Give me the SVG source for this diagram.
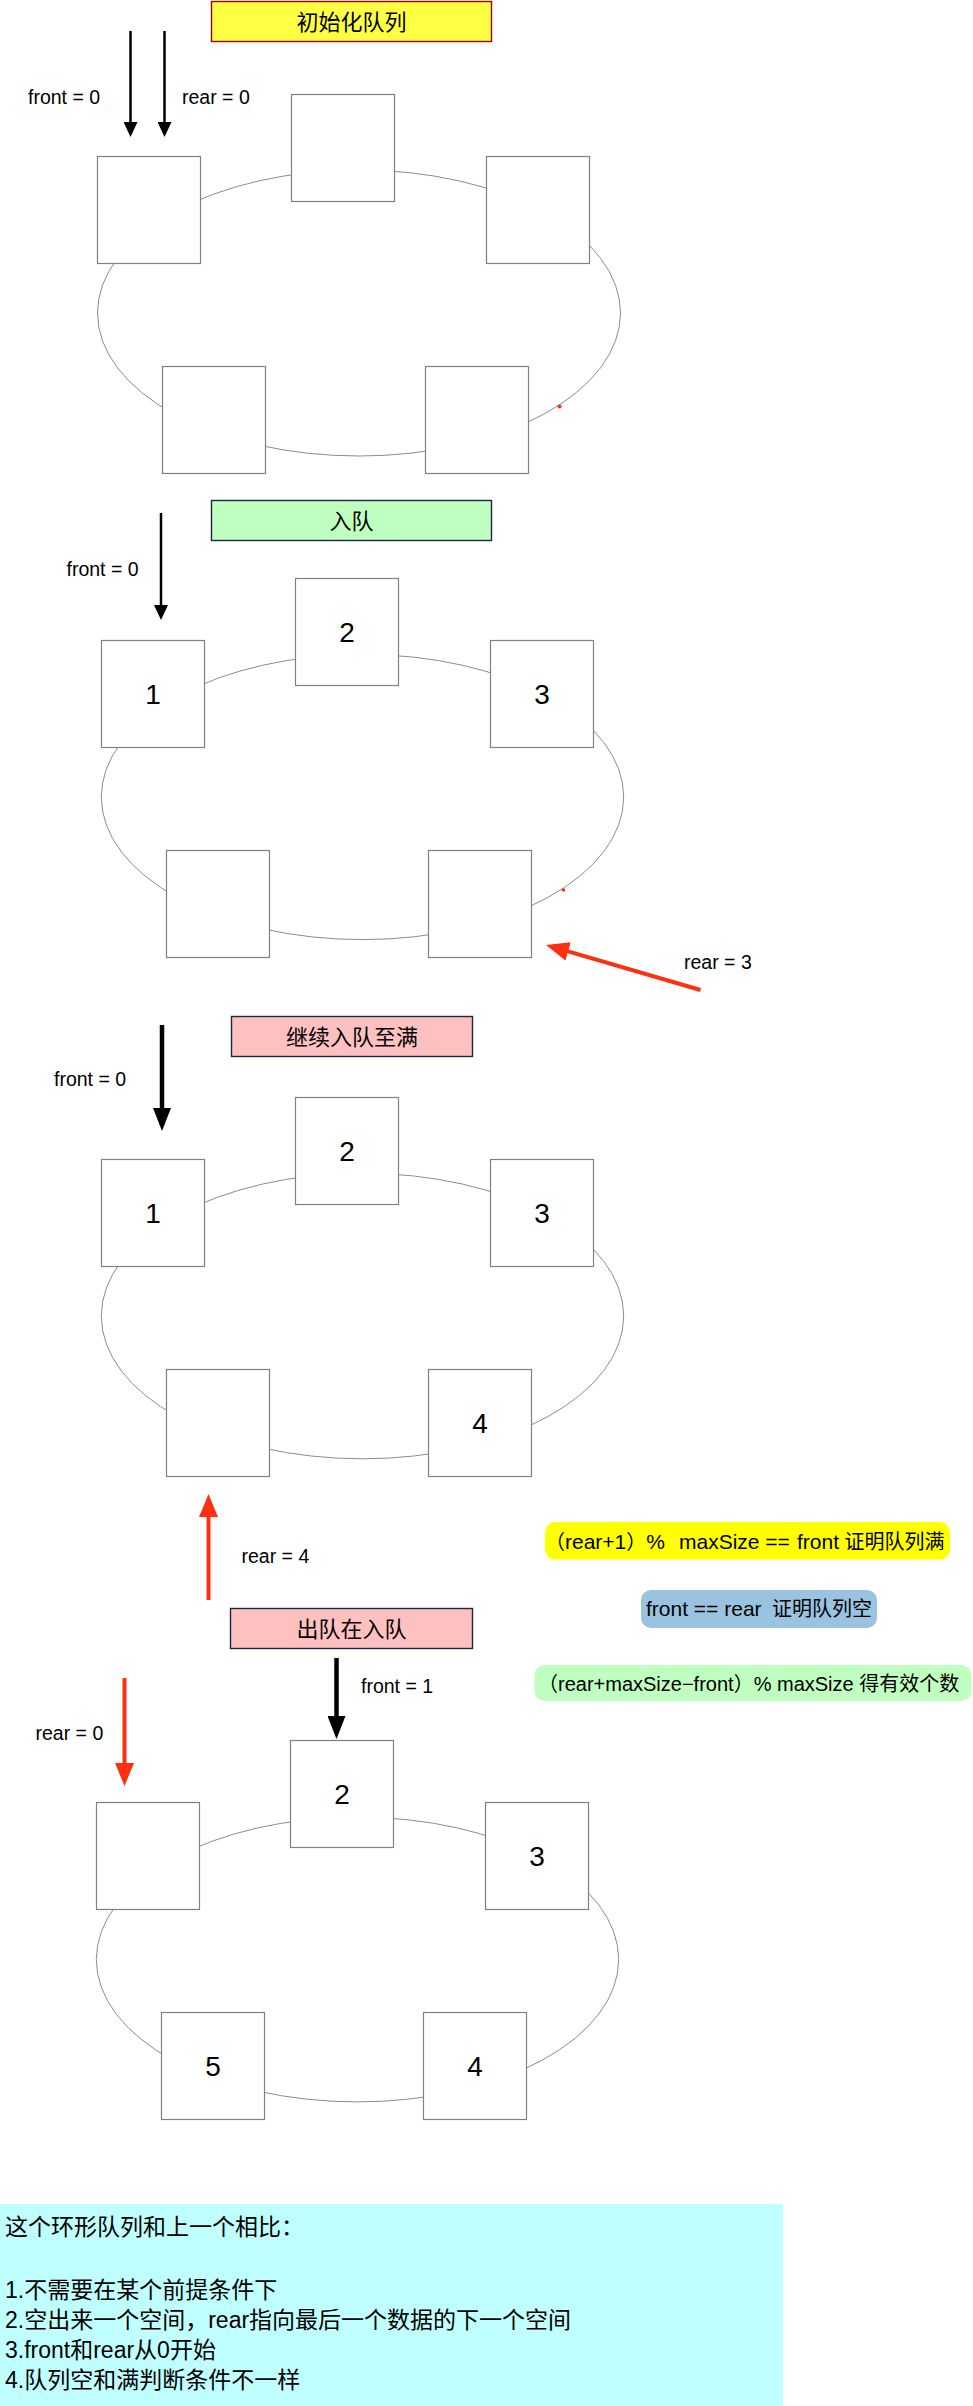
<svg xmlns="http://www.w3.org/2000/svg" width="973" height="2406" viewBox="0 0 973 2406">
<style>
text { font-family: 'Liberation Sans', 'Noto Sans CJK SC', sans-serif; fill: #000; }
.box { fill: #fff; stroke: #808080; stroke-width: 1.2; }
.ring { fill: none; stroke: #8c8c8c; stroke-width: 1; }
.num { font-size: 28px; text-anchor: middle; }
.lbl { font-size: 19.5px; }
.ttl { font-size: 22px; text-anchor: middle; }
.fml { font-size: 20px; }
.lat { font-size: 21px; }
.note { font-size: 23px; }
.tb1 { fill: #ffff44; stroke: #a00000; stroke-width: 1.4; }
.tbg { fill: #bfffbf; stroke: #1c2448; stroke-width: 1.4; }
.tbp { fill: #ffc0c0; stroke: #1c2448; stroke-width: 1.4; }
.ab { stroke: #000; fill: none; }
.ar { stroke: #ff3010; fill: none; }
.thin { stroke-width: 2.5; }
.thick { stroke-width: 4.5; }
.red4 { stroke-width: 4; }
</style>
<defs>
<marker id="hs" viewBox="0 0 15 14" markerWidth="15" markerHeight="14" refX="11" refY="7" orient="auto" markerUnits="userSpaceOnUse"><path d="M0,0 L15,7 L0,14 z" fill="#000"/></marker>
<marker id="hl" viewBox="0 0 23 18" markerWidth="23" markerHeight="18" refX="17" refY="9" orient="auto" markerUnits="userSpaceOnUse"><path d="M0,0 L23,9 L0,18 z" fill="#000"/></marker>
<marker id="hr" viewBox="0 0 23 19" markerWidth="23" markerHeight="19" refX="17" refY="9.5" orient="auto" markerUnits="userSpaceOnUse"><path d="M0,0 L23,9.5 L0,19 z" fill="#ff3010"/></marker>
</defs>

<!-- Section 1 -->
<g id="s1-ring"><ellipse class="ring" cx="359" cy="313" rx="261.5" ry="143"/></g>
<g id="s1-title"><rect class="tb1" x="211.5" y="1.5" width="280" height="40"/><text class="ttl" x="351.5" y="29.5">初始化队列</text></g>
<g id="s1-n0"><rect class="box" x="97.5" y="156.5" width="103" height="107"/></g>
<g id="s1-n1"><rect class="box" x="291.5" y="94.5" width="103" height="107"/></g>
<g id="s1-n2"><rect class="box" x="486.5" y="156.5" width="103" height="107"/></g>
<g id="s1-n3"><rect class="box" x="425.5" y="366.5" width="103" height="107"/></g>
<g id="s1-n4"><rect class="box" x="162.5" y="366.5" width="103" height="107"/></g>

<!-- Section 2 -->
<g id="s2-ring"><ellipse class="ring" cx="362.5" cy="797" rx="261.2" ry="142.6"/></g>
<g id="s2-title"><rect class="tbg" x="211.5" y="500.5" width="280" height="40"/><text class="ttl" x="351.5" y="528.5">入队</text></g>
<g id="s2-n0"><rect class="box" x="101.5" y="640.5" width="103" height="107"/><text class="num" x="153" y="703.5">1</text></g>
<g id="s2-n1"><rect class="box" x="295.5" y="578.5" width="103" height="107"/><text class="num" x="347" y="641.5">2</text></g>
<g id="s2-n2"><rect class="box" x="490.5" y="640.5" width="103" height="107"/><text class="num" x="542" y="703.5">3</text></g>
<g id="s2-n3"><rect class="box" x="428.5" y="850.5" width="103" height="107"/></g>
<g id="s2-n4"><rect class="box" x="166.5" y="850.5" width="103" height="107"/></g>

<!-- Section 3 -->
<g id="s3-ring"><ellipse class="ring" cx="362.5" cy="1316" rx="261.2" ry="142.8"/></g>
<g id="s3-title"><rect class="tbp" x="231.5" y="1016.5" width="241" height="40"/><text class="ttl" x="352" y="1044.5">继续入队至满</text></g>
<g id="s3-n0"><rect class="box" x="101.5" y="1159.5" width="103" height="107"/><text class="num" x="153" y="1222.5">1</text></g>
<g id="s3-n1"><rect class="box" x="295.5" y="1097.5" width="103" height="107"/><text class="num" x="347" y="1160.5">2</text></g>
<g id="s3-n2"><rect class="box" x="490.5" y="1159.5" width="103" height="107"/><text class="num" x="542" y="1222.5">3</text></g>
<g id="s3-n3"><rect class="box" x="428.5" y="1369.5" width="103" height="107"/><text class="num" x="480" y="1432.5">4</text></g>
<g id="s3-n4"><rect class="box" x="166.5" y="1369.5" width="103" height="107"/></g>

<!-- Section 4 -->
<g id="s4-ring"><ellipse class="ring" cx="357.5" cy="1959.5" rx="261.2" ry="142.4"/></g>
<g id="s4-title"><rect class="tbp" x="230.5" y="1608.5" width="242" height="40"/><text class="ttl" x="351.5" y="1636.5">出队在入队</text></g>
<g id="s4-n0"><rect class="box" x="96.5" y="1802.5" width="103" height="107"/></g>
<g id="s4-n1"><rect class="box" x="290.5" y="1740.5" width="103" height="107"/><text class="num" x="342" y="1803.5">2</text></g>
<g id="s4-n2"><rect class="box" x="485.5" y="1802.5" width="103" height="107"/><text class="num" x="537" y="1865.5">3</text></g>
<g id="s4-n3"><rect class="box" x="423.5" y="2012.5" width="103" height="107"/><text class="num" x="475" y="2075.5">4</text></g>
<g id="s4-n4"><rect class="box" x="161.5" y="2012.5" width="103" height="107"/><text class="num" x="213" y="2075.5">5</text></g>

<!-- Formula notes -->
<g id="f-full"><rect x="545" y="1522" width="405" height="37.5" rx="10" fill="#ffff00"/><text class="fml" y="1548.5"><tspan x="545">（<tspan class="lat">rear+1</tspan>）<tspan class="lat">%</tspan></tspan><tspan class="lat" x="679">maxSize ==</tspan><tspan x="797"><tspan class="lat">front</tspan> 证明队列满</tspan></text></g>
<g id="f-empty"><rect x="641" y="1590" width="236" height="38" rx="10" fill="#99c3de"/><text class="fml" y="1616"><tspan class="lat" x="646">front == rear</tspan><tspan x="772">证明队列空</tspan></text></g>
<g id="f-count"><rect x="534.5" y="1665" width="437" height="36" rx="10" fill="#bfffbf"/><text class="fml" x="538" y="1690.5">（rear+maxSize−front）% maxSize 得有效个数</text></g>

<!-- Summary note -->
<g id="summary"><rect x="0" y="2204" width="783" height="202" fill="#bfffff"/>
<text class="note" x="5" y="2235">这个环形队列和上一个相比：</text>
<text class="note" x="5" y="2298">1.不需要在某个前提条件下</text>
<text class="note" x="5" y="2328">2.空出来一个空间，rear指向最后一个数据的下一个空间</text>
<text class="note" x="5" y="2358">3.front和rear从0开始</text>
<text class="note" x="5" y="2388">4.队列空和满判断条件不一样</text>
</g>

<!-- Connectors -->
<g id="connectors">
<line class="ab thin" x1="130.5" y1="31" x2="130.5" y2="133" marker-end="url(#hs)"/>
<line class="ab thin" x1="164.5" y1="31" x2="164.5" y2="133" marker-end="url(#hs)"/>
<line class="ab thin" x1="161" y1="513" x2="161" y2="616" marker-end="url(#hs)"/>
<line class="ar red4" x1="700.5" y1="990" x2="551.8" y2="946.7" marker-end="url(#hr)"/>
<line class="ab thick" x1="162" y1="1025" x2="162" y2="1125" marker-end="url(#hl)"/>
<line class="ar red4" x1="208.5" y1="1600" x2="208.5" y2="1500" marker-end="url(#hr)"/>
<line class="ab thick" x1="336.5" y1="1658" x2="336.5" y2="1733" marker-end="url(#hl)"/>
<line class="ar red4" x1="124.5" y1="1678" x2="124.5" y2="1780" marker-end="url(#hr)"/>
<circle cx="559.5" cy="406.5" r="2" fill="#ff3010"/>
<circle cx="563.5" cy="890" r="1.8" fill="#ff3010"/>
<text class="lbl" x="28" y="104">front = 0</text>
<text class="lbl" x="182" y="104">rear = 0</text>
<text class="lbl" x="66.5" y="575.5">front = 0</text>
<text class="lbl" x="684" y="969">rear = 3</text>
<text class="lbl" x="54" y="1086">front = 0</text>
<text class="lbl" x="241.5" y="1562.5">rear = 4</text>
<text class="lbl" x="361" y="1692.5">front = 1</text>
<text class="lbl" x="35.5" y="1740">rear = 0</text>
</g>
</svg>
